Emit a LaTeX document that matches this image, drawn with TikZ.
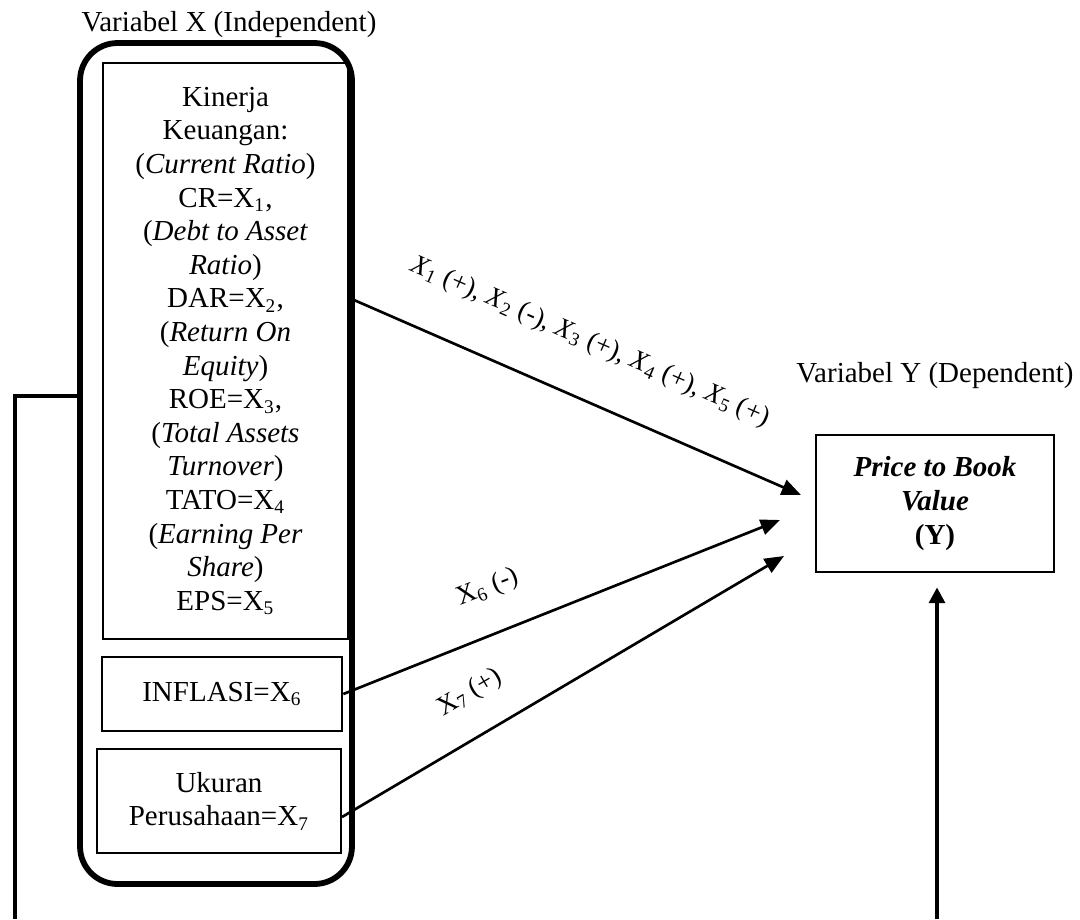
\documentclass[tikz,border=0pt]{standalone}
\usepackage{fontspec}
\setmainfont{Liberation Serif}
\usetikzlibrary{arrows.meta}

\tikzset{
  txt/.style={font=\fontsize{12}{13.9}\selectfont, inner sep=0pt, align=center},
  box/.style={txt, draw, line width=1.1pt},
  outerbox/.style={draw, line width=2.4pt, rounded corners=15.5pt},
  conn/.style={line width=1.1pt, -{Triangle[length=8pt, width=6.5pt]}},
  vconn/.style={line width=1.9pt, -{Triangle[length=6.5pt, width=6.5pt]}},
  rel/.style={font=\fontsize{11.2}{13}\selectfont, inner sep=0pt}
}

\begin{document}
\begin{tikzpicture}[x=0.4137pt, y=-0.4137pt]
  \useasboundingbox (0, 0) rectangle (1080, 919);

  % Variabel X (independent side)
  \node[txt] (vx) at (229, 25) {Variabel X (Independent)};
  \node[outerbox, minimum width=112.5pt, minimum height=347.9pt] (outer) at (216, 463.5) {};

  \node[box, minimum width=101.4pt, minimum height=238.3pt] (kinerja) at (225.5, 351) {%
    Kinerja\\ Keuangan:\\ (\textit{Current Ratio})\\ CR=X\textsubscript{1},\\
    (\textit{Debt to Asset}\\ \textit{Ratio})\\ DAR=X\textsubscript{2},\\
    (\textit{Return On}\\ \textit{Equity})\\ ROE=X\textsubscript{3},\\
    (\textit{Total Assets}\\ \textit{Turnover})\\ TATO=X\textsubscript{4}\\
    (\textit{Earning Per}\\ \textit{Share})\\ EPS=X\textsubscript{5}};
  \node[box, minimum width=99.3pt, minimum height=30.6pt] (inflasi) at (222, 694) {INFLASI=X\textsubscript{6}};
  \node[box, minimum width=100.9pt, minimum height=43pt] (ukuran) at (219, 801) {Ukuran\\ Perusahaan=X\textsubscript{7}};

  % Variabel Y (dependent side)
  \node[txt] (vy) at (935, 376) {Variabel Y (Dependent)};
  \node[box, minimum width=98.5pt, minimum height=56.7pt] (pbv) at (935, 503.5)
    {\textbf{\textit{Price to Book}}\\ \textbf{\textit{Value}}\\ \textbf{(Y)}};

  % connector ends
  \coordinate (s1) at (354, 300);
  \coordinate (s3) at (342, 817);
  \coordinate (t1) at (801, 495);
  \coordinate (t2) at (780, 520);
  \coordinate (t3) at (784, 556);
  \coordinate (lk) at (15, 396);
  \coordinate (lb) at (15, 919);
  \coordinate (yb) at (937, 919);

  \draw[conn] (s1) -- (t1);
  \draw[conn] (inflasi.east) -- (t2);
  \draw[conn] (s3) -- (t3);

  \draw[line width=1.6pt] (outer.west |- lk) -- (lk) -- (lb);
  \draw[vconn, shorten >=5.8pt] (yb) -- (yb |- pbv.south);

  % relation labels
  \node[rel, rotate=-23.6] (l1) at (590, 342)
    {\textit{X}\textsubscript{1} (+), \textit{X}\textsubscript{2} (-), \textit{X}\textsubscript{3} (+), \textit{X}\textsubscript{4} (+), \textit{X}\textsubscript{5} (+)};
  \node[rel, rotate=21.5] (l2) at (488, 588) {X\textsubscript{6} (-)};
  \node[rel, rotate=30.6] (l3) at (470, 693) {X\textsubscript{7} (+)};
\end{tikzpicture}
\end{document}
